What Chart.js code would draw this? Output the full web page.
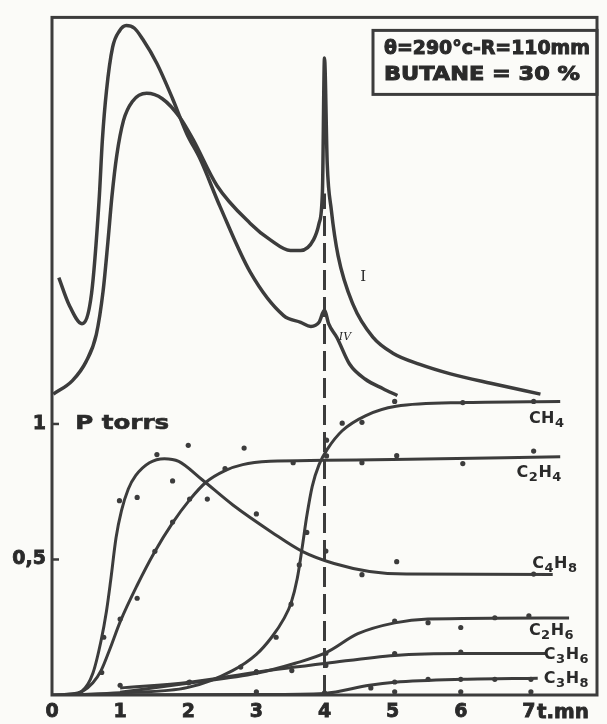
<!DOCTYPE html>
<html>
<head>
<meta charset="utf-8">
<script src="https://cdn.jsdelivr.net/npm/chart.js@4.4.1/dist/chart.umd.min.js"></script>
<style>
html, body { margin: 0; padding: 0; background: #fbfbf8; }
#cadre { width: 607px; height: 724px; position: relative; }
</style>
</head>
<body>
<div id="cadre"><canvas id="graphique"></canvas></div>
<script>
// graduations
const ticksX = [0, 1, 2, 3, 4, 5, 6, 7];
const etiquettesX = ['0', '1', '2', '3', '4', '5', '6', '7'];
const ticksY = [0.5, 1];
const etiquettesY = ['0,5', '1'];

// courbes du haut (I et IV), [t, valeur]
const courbeI = [[0.02,1.11],[0.3,1.16],[0.5,1.23],[0.65,1.33],[0.75,1.49],[0.82,1.67],[0.88,1.84],[0.95,1.99],[1.05,2.12],[1.18,2.19],[1.39,2.22],[1.62,2.2],[1.88,2.13],[2.07,2.05],[2.42,1.88],[2.91,1.74],[3.2,1.68],[3.5,1.64],[3.65,1.64],[3.84,1.68],[3.92,1.74],[3.97,1.86],[4.0,2.35],[4.04,1.96],[4.1,1.79],[4.2,1.62],[4.42,1.44],[4.71,1.32],[5.01,1.26],[5.4,1.22],[5.85,1.185],[6.44,1.15],[7.17,1.11]];
const courbeIV = [[0.1,1.54],[0.25,1.44],[0.44,1.37],[0.58,1.48],[0.69,1.82],[0.74,2.05],[0.8,2.23],[0.89,2.39],[0.99,2.45],[1.09,2.47],[1.21,2.46],[1.33,2.42],[1.54,2.33],[1.77,2.2],[1.98,2.07],[2.17,1.98],[2.47,1.8],[2.91,1.56],[3.4,1.4],[3.65,1.375],[3.8,1.36],[3.92,1.375],[4.0,1.42],[4.06,1.37],[4.18,1.32],[4.37,1.22],[4.6,1.165],[4.86,1.13],[5.07,1.105]];

// pressions partielles (torrs)
const courbeCH4 = [[0.3,0],[1.0,0.008],[2.0,0.028],[2.65,0.09],[3.0,0.15],[3.23,0.215],[3.4,0.28],[3.51,0.34],[3.6,0.43],[3.67,0.54],[3.74,0.66],[3.82,0.77],[3.92,0.85],[4.05,0.91],[4.26,0.975],[4.6,1.03],[5.05,1.065],[6.09,1.079],[7.46,1.083]];
const courbeC2H4 = [[0,0],[0.3,0.002],[0.44,0.012],[0.6,0.045],[0.72,0.09],[0.85,0.17],[1.0,0.27],[1.25,0.405],[1.5,0.525],[1.77,0.635],[2.02,0.72],[2.26,0.785],[2.54,0.828],[2.8,0.85],[3.2,0.862],[4.0,0.866],[5.0,0.869],[7.46,0.879]];
const courbeC4H8 = [[0,0],[0.25,0.004],[0.44,0.015],[0.6,0.08],[0.72,0.2],[0.8,0.31],[0.86,0.42],[0.94,0.58],[1.02,0.68],[1.12,0.76],[1.23,0.81],[1.43,0.857],[1.65,0.872],[1.86,0.862],[2.2,0.795],[2.66,0.7],[3.23,0.6],[3.68,0.529],[4.14,0.485],[4.66,0.456],[5.2,0.446],[7.35,0.445]];
const courbeC2H6 = [[1.0,0.01],[2.02,0.044],[3.0,0.08],[3.57,0.117],[4.03,0.157],[4.49,0.226],[5.03,0.266],[5.52,0.28],[7.59,0.284]];
const courbeC3H6 = [[1.0,0.026],[2.02,0.047],[3.0,0.084],[4.03,0.117],[5.03,0.146],[6.03,0.153],[7.25,0.153]];
const courbeC3H8 = [[0.5,0],[3.0,0.002],[4.0,0.006],[4.66,0.036],[5.03,0.047],[6.03,0.058],[7.13,0.062]];

// points mesurés
const mesuresCH4 = [[2.77,0.103],[3.29,0.213],[3.51,0.335],[3.63,0.48],[3.74,0.6],[4.03,0.94],[4.26,1.003],[4.55,1.006],[5.03,1.083],[6.03,1.079],[7.07,1.083]];
const mesuresC2H4 = [[0.73,0.083],[1.0,0.28],[1.25,0.357],[1.51,0.53],[1.77,0.638],[2.02,0.723],[2.54,0.835],[3.54,0.857],[4.03,0.882],[4.55,0.857],[5.06,0.883],[6.03,0.854],[7.07,0.9]];
const mesuresC4H8 = [[0.76,0.213],[0.99,0.717],[1.25,0.729],[1.54,0.887],[1.77,0.79],[2.0,0.921],[2.28,0.723],[2.82,0.911],[3.0,0.668],[4.02,0.531],[4.55,0.444],[5.06,0.492],[7.07,0.446]];
const mesuresC2H6 = [[2.0,0.045],[3.0,0.085],[3.52,0.09],[4.02,0.154],[5.03,0.273],[5.52,0.267],[6.0,0.249],[6.5,0.285],[7.0,0.292]];
const mesuresC3H6 = [[1.0,0.036],[2.02,0.048],[3.0,0.085],[4.02,0.109],[5.03,0.153],[6.0,0.158]];
const mesuresC3H8 = [[3.0,0.012],[4.0,0.008],[4.68,0.026],[5.03,0.048],[5.52,0.058],[6.0,0.058],[6.5,0.058],[7.03,0.058],[5.03,0.012],[6.0,0.012],[7.03,0.012]];

// trait vertical à t = 4 mn
const tirets = [[4, 0], [4, 1.85]];

const ENCRE = '#3c3c3c';

function versXY(liste) {
    return liste.map(p => ({ x: p[0], y: p[1] }));
}

function courbe(liste, epaisseur) {
    return {
        data: versXY(liste),
        showLine: true,
        borderColor: ENCRE,
        borderWidth: epaisseur,
        pointRadius: 0,
        cubicInterpolationMode: 'monotone'
    };
}

function mesures(liste) {
    return {
        data: versXY(liste),
        showLine: false,
        pointRadius: 2.6,
        pointBackgroundColor: ENCRE,
        pointBorderColor: ENCRE,
        pointBorderWidth: 0
    };
}

// texte étiré à une largeur donnée (un peu épaissi)
function texteLarge(ctx, txt, x, y, largeur, epais) {
    const w = ctx.measureText(txt).width;
    ctx.save();
    ctx.translate(x, y);
    ctx.scale(largeur / w, 1);
    if (epais) {
        ctx.lineWidth = epais;
        ctx.strokeStyle = ctx.fillStyle;
        ctx.strokeText(txt, 0, 0);
    }
    ctx.fillText(txt, 0, 0);
    ctx.restore();
}

// formule chimique avec indices
function formule(ctx, txt, x, y) {
    let cx = x;
    for (const c of txt) {
        const indice = /[0-9]/.test(c);
        ctx.font = indice ? 'bold 13px "DejaVu Sans"' : 'bold 16px "DejaVu Sans"';
        ctx.fillText(c, cx, y + (indice ? 4 : 0));
        cx += ctx.measureText(c).width + 0.5;
    }
}

const habillage = {
    id: 'habillage',
    afterDraw(chart) {
        const ctx = chart.ctx;
        const a = chart.chartArea;
        const sx = chart.scales.x, sy = chart.scales.y;
        ctx.save();
        ctx.strokeStyle = ENCRE;
        ctx.fillStyle = '#2a2a2a';
        ctx.lineWidth = 3;
        ctx.strokeRect(a.left, a.top, a.right - a.left, a.bottom - a.top);

        // petites graduations vers l'intérieur
        ctx.lineWidth = 2.5;
        for (const v of ticksY) {
            const py = sy.getPixelForValue(v);
            ctx.beginPath();
            ctx.moveTo(a.left, py);
            ctx.lineTo(a.left + 7, py);
            ctx.stroke();
        }

        // cartouche
        ctx.lineWidth = 3;
        ctx.strokeRect(a.right - 224, a.top + 13, 224, 64);
        ctx.textBaseline = 'middle';
        ctx.textAlign = 'left';
        ctx.font = 'bold 20px "DejaVu Sans"';
        texteLarge(ctx, 'θ=290°c-R=110mm', a.right - 213, a.top + 31, 206, 1);
        texteLarge(ctx, 'BUTANE = 30 %', a.right - 213, a.top + 57, 196, 1);

        // titre de l'axe
        texteLarge(ctx, 'P torrs', sx.getPixelForValue(0.34), sy.getPixelForValue(1), 94, 0.6);
        texteLarge(ctx, 't.mn', sx.getPixelForValue(7) + 8, a.bottom + 18, 52, 0.8);

        // repères des courbes du haut
        ctx.font = '15px "DejaVu Serif"';
        ctx.textAlign = 'center';
        ctx.fillText('I', sx.getPixelForValue(4.57), sy.getPixelForValue(1.54));
        ctx.font = 'italic 11px "DejaVu Serif"';
        ctx.fillText('IV', sx.getPixelForValue(4.3), sy.getPixelForValue(1.32));

        // noms des produits
        ctx.textAlign = 'left';
        ctx.textBaseline = 'alphabetic';
        formule(ctx, 'CH4', sx.getPixelForValue(7.0), sy.getPixelForValue(1.005));
        formule(ctx, 'C2H4', sx.getPixelForValue(6.82), sy.getPixelForValue(0.804));
        formule(ctx, 'C4H8', sx.getPixelForValue(7.05), sy.getPixelForValue(0.467));
        formule(ctx, 'C2H6', sx.getPixelForValue(7.0), sy.getPixelForValue(0.22));
        formule(ctx, 'C3H6', sx.getPixelForValue(7.22), sy.getPixelForValue(0.131));
        formule(ctx, 'C3H8', sx.getPixelForValue(7.22), sy.getPixelForValue(0.044));
        ctx.restore();
    }
};

const policeAxes = { family: 'DejaVu Sans', weight: 'bold', size: 19 };

const jeux = [
    courbe(courbeI, 3.5),
    courbe(courbeIV, 3.5),
    courbe(courbeCH4, 3),
    courbe(courbeC2H4, 3),
    courbe(courbeC4H8, 3),
    courbe(courbeC2H6, 3),
    courbe(courbeC3H6, 3),
    courbe(courbeC3H8, 3),
    mesures(mesuresCH4),
    mesures(mesuresC2H4),
    mesures(mesuresC4H8),
    mesures(mesuresC2H6),
    mesures(mesuresC3H6),
    mesures(mesuresC3H8),
    {
        data: versXY(tirets),
        showLine: true,
        borderColor: ENCRE,
        borderWidth: 3,
        borderDash: [20, 7],
        pointRadius: 0
    }
];

new Chart(document.getElementById('graphique'), {
    type: 'scatter',
    data: { datasets: jeux },
    options: {
        responsive: true,
        maintainAspectRatio: false,
        animation: false,
        layout: { padding: { top: 10, right: 10, left: 0, bottom: 0 } },
        plugins: { legend: { display: false }, tooltip: { enabled: false } },
        scales: {
            x: {
                type: 'linear', min: 0, max: 8,
                border: { display: false },
                grid: { display: false, drawTicks: false },
                afterBuildTicks: s => { s.ticks = ticksX.map(v => ({ value: v })); },
                afterFit: s => { s.height = 29; },
                ticks: {
                    autoSkip: false, maxRotation: 0, padding: 6,
                    color: '#2a2a2a', font: policeAxes,
                    textStrokeColor: '#2a2a2a', textStrokeWidth: 0.8,
                    callback: v => etiquettesX[ticksX.indexOf(v)]
                }
            },
            y: {
                type: 'linear', min: 0, max: 2.5,
                border: { display: false },
                grid: { display: false, drawTicks: false },
                afterBuildTicks: s => { s.ticks = ticksY.map(v => ({ value: v })); },
                afterFit: s => { s.width = 52; },
                ticks: {
                    padding: 6, color: '#2a2a2a', font: policeAxes,
                    textStrokeColor: '#2a2a2a', textStrokeWidth: 0.8,
                    callback: v => etiquettesY[ticksY.indexOf(v)]
                }
            }
        }
    },
    plugins: [habillage]
});
</script>
</body>
</html>
